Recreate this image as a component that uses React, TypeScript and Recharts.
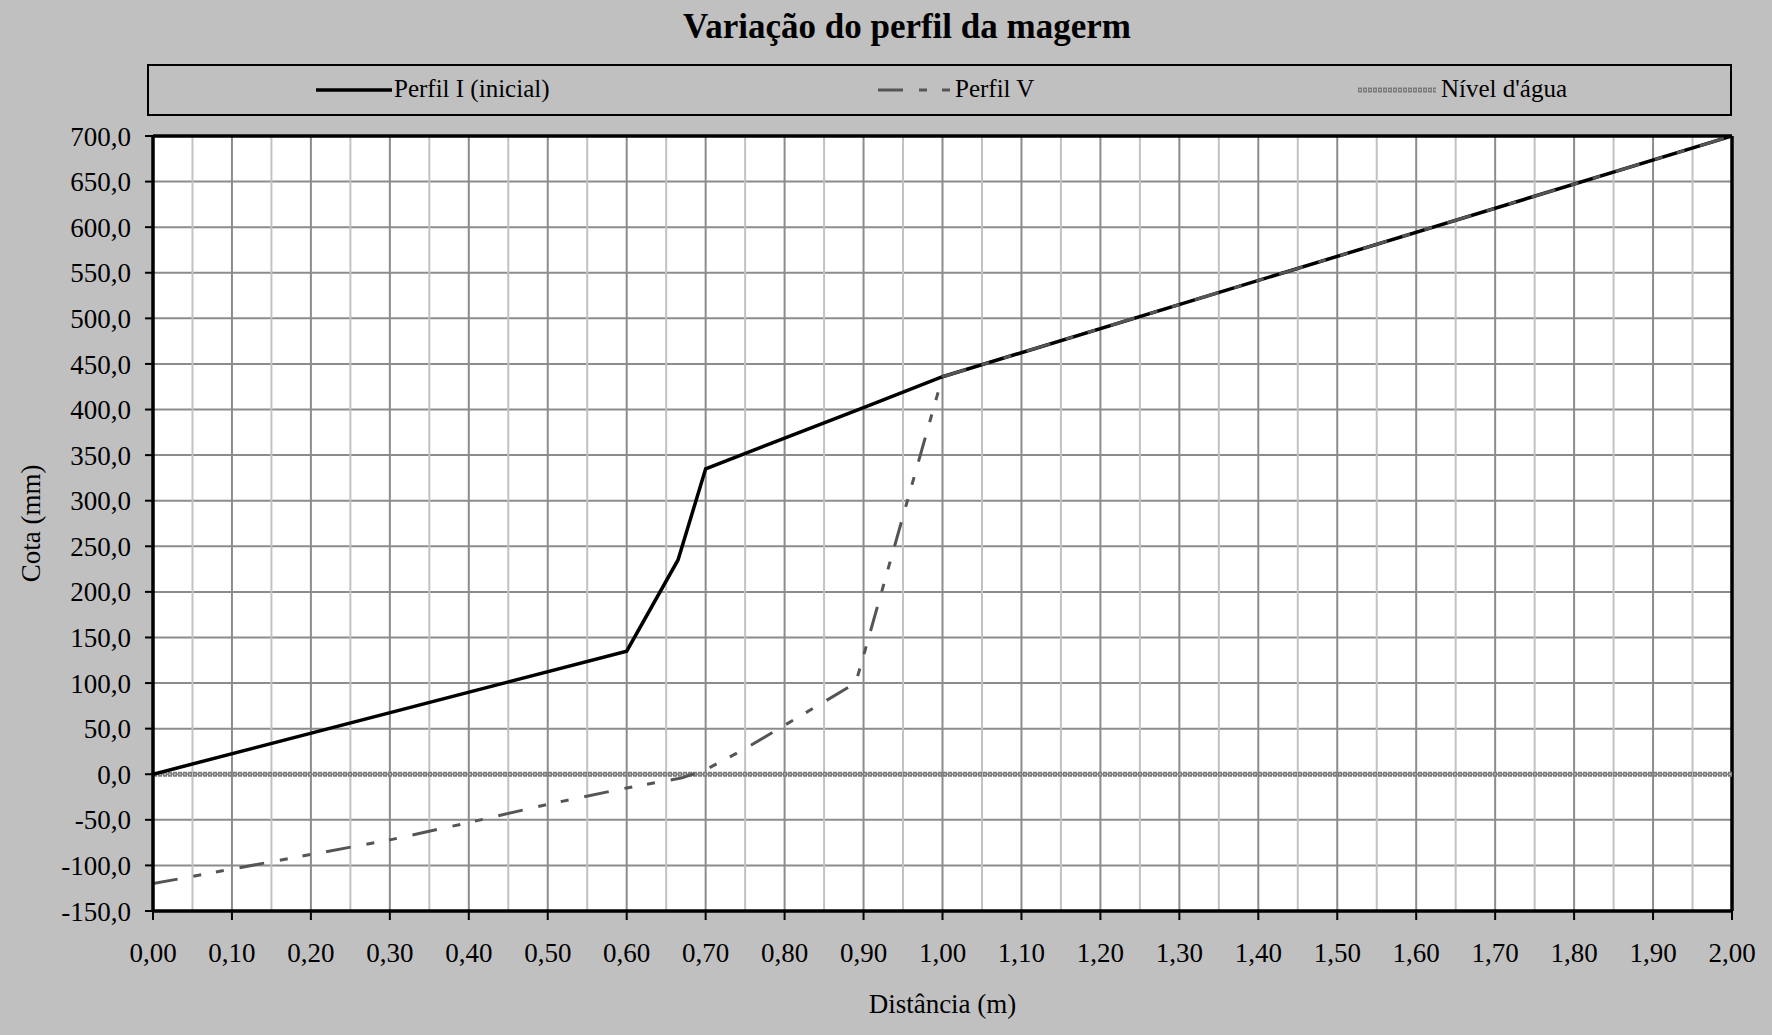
import { LineChart, Line, XAxis, YAxis, CartesianGrid, ReferenceLine } from "recharts"

// Perfil I (inicial)
const perfilIX = [0, 0.6, 0.665, 0.7, 0.9, 1.0, 2.0]
const perfilIY = [0, 135, 235, 335, 402, 436, 700]

// Perfil V
const perfilVX = [0, 0.1, 0.2, 0.3, 0.4, 0.5, 0.6, 0.67, 0.7, 0.75, 0.89, 0.9, 1.0, 2.0]
const perfilVY = [-120, -104, -88, -72, -53, -33, -15, -4, 5, 28, 100, 130, 436, 700]

// Nível d'água
const nivelX = [0, 2]
const nivelY = [0, 0]

const xTicks = [0, 0.1, 0.2, 0.3, 0.4, 0.5, 0.6, 0.7, 0.8, 0.9, 1.0, 1.1, 1.2, 1.3, 1.4, 1.5, 1.6, 1.7, 1.8, 1.9, 2.0]
const xMinor = [0.05, 0.15, 0.25, 0.35, 0.45, 0.55, 0.65, 0.75, 0.85, 0.95, 1.05, 1.15, 1.25, 1.35, 1.45, 1.55, 1.65, 1.75, 1.85, 1.95]
const yTicks = [-150, -100, -50, 0, 50, 100, 150, 200, 250, 300, 350, 400, 450, 500, 550, 600, 650, 700]

const toPoints = (xs: number[], ys: number[]) => xs.map((x, i) => ({ x, y: ys[i] }))

const perfilI = toPoints(perfilIX, perfilIY)
const perfilV = toPoints(perfilVX, perfilVY)
const nivel = toPoints(nivelX, nivelY)

const FONT = "'Liberation Serif', 'DejaVu Serif', serif"
const V_DASH = "25 16 8 15 8 16"
const RING_GRAY = "#7c7c7c"
const RING_CENTER = "#d8d8d8"

function LegendBox() {
  return (
    <div
      style={{
        position: "absolute",
        left: 147,
        top: 64,
        width: 1585,
        height: 52,
        border: "2px solid #000",
        boxSizing: "border-box",
        fontFamily: FONT,
        fontSize: 25,
        color: "#000",
      }}
    >
      <svg style={{ position: "absolute", left: 165, top: 0 }} width={80} height={48}>
        <line x1={2} y1={24} x2={78} y2={24} stroke="#000" strokeWidth={3.5} />
      </svg>
      <span style={{ position: "absolute", left: 245, top: 9 }}>Perfil I (inicial)</span>

      <svg style={{ position: "absolute", left: 728, top: 0 }} width={80} height={48}>
        <line x1={1} y1={24} x2={74} y2={24} stroke="#555" strokeWidth={3} strokeDasharray="25 16 8 15 8" />
      </svg>
      <span style={{ position: "absolute", left: 806, top: 9 }}>Perfil V</span>

      <svg style={{ position: "absolute", left: 1207, top: 0 }} width={82} height={48}>
        <line x1={2} y1={24} x2={80} y2={24} stroke={RING_GRAY} strokeWidth={5} strokeDasharray="4 1" />
        <line x1={2} y1={24} x2={80} y2={24} stroke={RING_CENTER} strokeWidth={1.4} strokeDasharray="1.4 3.6" strokeDashoffset={3.7} />
      </svg>
      <span style={{ position: "absolute", left: 1292, top: 9 }}>Nível d'água</span>
    </div>
  )
}

export default function App() {
  return (
    <div
      style={{
        position: "absolute",
        left: 0,
        top: 0,
        width: 1772,
        height: 1035,
        background: "#c0c0c0",
        fontFamily: FONT,
      }}
    >
      <div
        style={{
          position: "absolute",
          left: 0,
          top: 7,
          width: 1814,
          textAlign: "center",
          fontSize: 35,
          fontWeight: "bold",
          color: "#000",
        }}
      >
        Variação do perfil da magerm
      </div>

      <LegendBox />

      <LineChart width={1772} height={1035} margin={{ top: 136, right: 40, bottom: 14, left: 13 }}>
        <CartesianGrid
          stroke="#8c8c8c"
          strokeWidth={2}
          fill="#fff"
          fillOpacity={1}
          verticalValues={xTicks}
          horizontalValues={yTicks}
        />
        {xMinor.map((v) => (
          <ReferenceLine key={v} x={v} stroke="#c2c2c2" strokeWidth={2} />
        ))}
        <XAxis
          dataKey="x"
          type="number"
          domain={[0, 2]}
          ticks={xTicks}
          allowDataOverflow
          height={110}
          tickSize={9}
          tickMargin={23}
          tickFormatter={(v: number) => v.toFixed(2).replace(".", ",")}
          tick={{ fill: "#000", fontSize: 27, fontFamily: FONT }}
          tickLine={{ stroke: "#000", strokeWidth: 2 }}
          axisLine={{ stroke: "#000", strokeWidth: 3.5 }}
          label={{
            value: "Distância (m)",
            position: "insideBottom",
            offset: 8,
            fill: "#000",
            fontSize: 27,
            fontFamily: FONT,
          }}
        />
        <YAxis
          type="number"
          domain={[-150, 700]}
          ticks={yTicks}
          allowDataOverflow
          width={140}
          tickSize={8}
          tickMargin={14}
          tickFormatter={(v: number) => v.toFixed(1).replace(".", ",")}
          tick={{ fill: "#000", fontSize: 27, fontFamily: FONT }}
          tickLine={{ stroke: "#000", strokeWidth: 2 }}
          axisLine={{ stroke: "#000", strokeWidth: 3.5 }}
          label={{
            value: "Cota (mm)",
            angle: -90,
            position: "insideLeft",
            offset: 17,
            fill: "#000",
            fontSize: 27,
            fontFamily: FONT,
            style: { textAnchor: "middle" },
          }}
        />
        <ReferenceLine y={700} stroke="#000" strokeWidth={3.5} />
        <ReferenceLine x={2} stroke="#000" strokeWidth={3.5} />

        <Line
          data={nivel}
          dataKey="y"
          type="linear"
          stroke={RING_GRAY}
          strokeWidth={5}
          strokeDasharray="4 1"
          dot={false}
          isAnimationActive={false}
        />
        <Line
          data={nivel}
          dataKey="y"
          type="linear"
          stroke={RING_CENTER}
          strokeWidth={1.4}
          strokeDasharray="1.4 3.6"
          strokeDashoffset={3.7}
          dot={false}
          isAnimationActive={false}
        />
        <Line
          data={perfilI}
          dataKey="y"
          type="linear"
          stroke="#000"
          strokeWidth={3.5}
          dot={false}
          isAnimationActive={false}
        />
        <Line
          data={perfilV}
          dataKey="y"
          type="linear"
          stroke="#555"
          strokeWidth={3}
          strokeDasharray={V_DASH}
          dot={false}
          isAnimationActive={false}
        />
      </LineChart>
    </div>
  )
}
